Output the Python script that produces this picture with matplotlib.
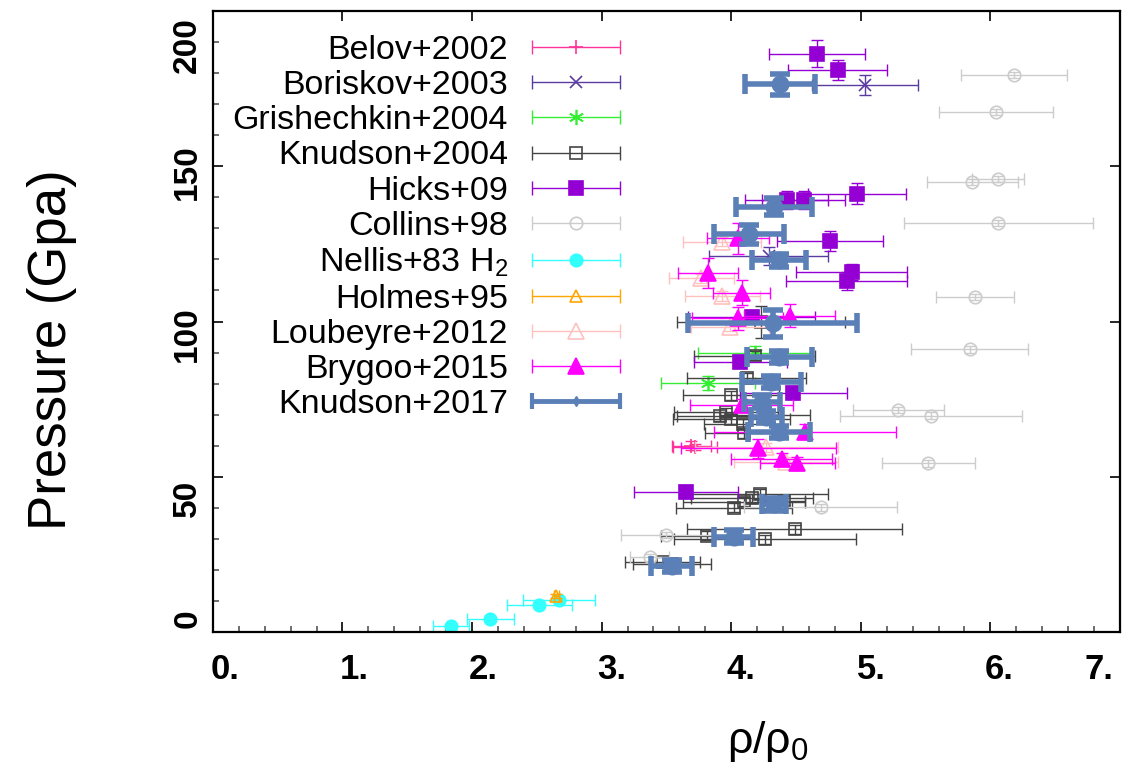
import numpy as np
import matplotlib
matplotlib.use("Agg")
import matplotlib.pyplot as plt
from matplotlib.ticker import MultipleLocator, FuncFormatter
from matplotlib.transforms import ScaledTranslation
from matplotlib.container import ErrorbarContainer
from matplotlib.legend_handler import HandlerErrorbar

plt.rcParams['font.family'] = ['Liberation Sans', 'DejaVu Sans']
plt.rcParams['mathtext.fontset'] = 'custom'
plt.rcParams['mathtext.rm'] = 'Liberation Sans'

# ---- data: rho/rho0, pressure (GPa), x error, y error ----
belov_x = [3.69, 3.72]
belov_y = [60.0, 59.6]
belov_xe = [0.15, 0.17]
belov_ye = [1.5, 1.0]

boriskov_x = [4.29, 5.03]
boriskov_y = [121.1, 176.2]
boriskov_xe = [0.46, 0.41]
boriskov_ye = [3.0, 3.2]

grish_x = [4.18, 3.82]
grish_y = [90.0, 80.1]
grish_xe = [0.44, 0.36]
grish_ye = [2.0, 2.2]

knud04_x = [4.23, 4.18, 4.12, 4.00, 3.91, 3.96, 4.00, 4.09, 4.26, 4.10,
            4.22, 4.16, 4.10, 4.41, 4.02, 4.49, 3.81, 4.26, 3.47, 3.54]
knud04_y = [99.9, 89.0, 81.9, 76.2, 69.5, 70.8, 68.6, 67.0, 69.9, 64.1,
            44.4, 43.0, 42.0, 42.3, 40.0, 33.1, 31.0, 29.9, 22.6, 22.0]
knud04_xe = [0.65, 0.47, 0.46, 0.37, 0.33, 0.40, 0.45, 0.30, 0.35, 0.30,
             0.53, 0.47, 0.47, 0.16, 0.45, 0.83, 0.35, 0.70, 0.29, 0.30]
knud04_ye = [5.2, 1.5, 1.5, 1.5, 1.5, 1.5, 1.5, 1.5, 1.5, 1.5,
             1.5, 1.5, 1.5, 1.5, 1.5, 1.5, 1.5, 1.5, 1.5, 1.5]

hicks_x = [4.66, 4.82, 4.97, 4.43, 4.56, 4.76, 4.93, 4.89, 4.16, 4.07, 4.48, 3.65]
hicks_y = [186.2, 181.0, 141.2, 139.1, 139.1, 126.0, 116.0, 113.1, 101.6, 87.1, 77.1, 45.2]
hicks_xe = [0.37, 0.38, 0.38, 0.32, 0.32, 0.41, 0.43, 0.47, 0.49, 0.36, 0.41, 0.40]
hicks_ye = [4.3, 3.2, 3.3, 3.0, 3.0, 3.3, 2.5, 3.0, 2.0, 2.0, 2.0, 2.0]

collins_x = [6.18, 6.04, 5.86, 6.06, 6.06, 5.88, 5.84, 5.29, 5.54, 5.52, 4.69, 3.50, 3.37]
collins_y = [179.4, 167.5, 145.0, 146.0, 131.8, 108.0, 91.0, 71.5, 69.7, 54.3, 40.1, 31.2, 24.0]
collins_xe = [0.41, 0.44, 0.35, 0.20, 0.73, 0.30, 0.45, 0.35, 0.70, 0.36, 0.59, 0.35, 0.15]
collins_ye = [1.0] * 13

nellis_x = [1.84, 2.14, 2.52, 2.67]
nellis_y = [1.9, 4.1, 8.7, 10.3]
nellis_xe = [0.14, 0.18, 0.25, 0.28]
nellis_ye = [0.5, 0.5, 0.5, 0.5]

holmes_x = [2.65]
holmes_y = [11.6]
holmes_xe = [0.02]
holmes_ye = [0.5]

loub_x = [3.93, 3.77, 3.93, 3.99, 4.27, 4.42]
loub_y = [125.7, 113.9, 108.2, 98.3, 59.5, 54.9]
loub_xe = [0.30, 0.25, 0.29, 0.30, 0.55, 0.40]
loub_ye = [1.5] * 6

brygoo_x = [4.05, 3.82, 4.08, 4.45, 4.05, 4.08, 4.57, 4.21, 4.39, 4.51]
brygoo_y = [126.8, 115.7, 109.3, 101.9, 101.0, 73.1, 64.5, 59.1, 55.6, 54.3]
brygoo_xe = [0.24, 0.23, 0.22, 0.35, 0.35, 0.40, 0.70, 0.60, 0.39, 0.29]
brygoo_ye = [5.0, 4.9, 4.1, 3.8, 3.8, 2.0, 2.5, 3.0, 2.0, 2.0]

knud17_x = [4.38, 4.33, 4.14, 4.37, 4.32, 4.37, 4.31, 4.24, 4.27, 4.37, 4.33, 4.02, 3.54]
knud17_y = [176.4, 137.0, 128.1, 119.7, 99.4, 88.5, 80.6, 74.2, 69.3, 64.5, 41.1, 30.7, 21.2]
knud17_xe = [0.27, 0.29, 0.27, 0.21, 0.65, 0.25, 0.23, 0.14, 0.12, 0.24, 0.09, 0.15, 0.16]
knud17_ye = [3.4, 2.8, 3.0, 2.0, 4.3, 2.0, 2.0, 2.0, 2.0, 2.0, 2.0, 2.0, 2.0]

x_ticks = [0, 1, 2, 3, 4, 5, 6, 7]
y_ticks = [0, 50, 100, 150, 200]

series = [
    ("Belov+2002", belov_x, belov_y, belov_xe, belov_ye, "#ff3399", "+", 10, True),
    ("Boriskov+2003", boriskov_x, boriskov_y, boriskov_xe, boriskov_ye, "#5a3ca0", "x", 9, True),
    ("Grishechkin+2004", grish_x, grish_y, grish_xe, grish_ye, "#33ee33", (6, 2, 0), 11, True),
    ("Knudson+2004", knud04_x, knud04_y, knud04_xe, knud04_ye, "#444444", "s", 9, False),
    ("Hicks+09", hicks_x, hicks_y, hicks_xe, hicks_ye, "#9400d3", "s", 10, True),
    ("Collins+98", collins_x, collins_y, collins_xe, collins_ye, "#cccccc", "o", 9, False),
    ("Nellis+83 H$_2$", nellis_x, nellis_y, nellis_xe, nellis_ye, "#33ffff", "o", 9, True),
    ("Holmes+95", holmes_x, holmes_y, holmes_xe, holmes_ye, "#ffa500", "^", 8, False),
    ("Loubeyre+2012", loub_x, loub_y, loub_xe, loub_ye, "#ffc0c0", "^", 12, False),
    ("Brygoo+2015", brygoo_x, brygoo_y, brygoo_xe, brygoo_ye, "#ff00ff", "^", 12, True),
]

fig = plt.figure(figsize=(11.33, 7.79), dpi=100)
ax = fig.add_axes([212.9 / 1133, 1 - 632 / 779, (1120 - 212.9) / 1133, (632 - 11) / 779])

handles = []
for name, x, y, xe, ye, c, m, ms, filled in series:
    fc = c if filled else "none"
    ax.errorbar(x, y, xerr=xe, yerr=ye, fmt="none", ecolor=c, elinewidth=1.0,
                capsize=4, capthick=1.0)
    ax.plot(x, y, linestyle="none", marker=m, ms=ms, mfc=fc, mec=c, mew=1.2)
    h = ax.errorbar([np.nan], [np.nan], xerr=[0.1], fmt="none", ecolor=c,
                    elinewidth=1.0, capsize=5, capthick=1.0)
    p, = ax.plot([np.nan], [np.nan], linestyle="none", marker=m, ms=ms,
                 mfc=fc, mec=c, mew=1.2)
    handles.append(((h, p), name))

k17 = "#5b80b8"
ax.errorbar(knud17_x, knud17_y, xerr=knud17_xe, yerr=knud17_ye, fmt="o", ms=12,
            color=k17, ecolor=k17, elinewidth=4, capsize=7.5, capthick=4)
h = ax.errorbar([np.nan], [np.nan], xerr=[0.1], fmt="none", ecolor=k17,
                elinewidth=3.5, capsize=6, capthick=3)
p, = ax.plot([np.nan], [np.nan], linestyle="none", marker="d", ms=5, color=k17)
handles.append(((h, p), "Knudson+2017"))

ax.set_xlim(0, 7)
ax.set_ylim(0, 200)
ax.set_xticks(x_ticks)
ax.set_yticks(y_ticks)
ax.xaxis.set_minor_locator(MultipleLocator(0.2))
ax.yaxis.set_minor_locator(MultipleLocator(10))
ax.xaxis.set_major_formatter(FuncFormatter(lambda v, p: f"{v:.0f}."))
ax.tick_params(which="both", direction="in", top=True, right=True, width=1.2)
ax.tick_params(which="major", length=7.5)
ax.tick_params(which="minor", length=4.5, top=False, right=False, color="#555555")
ax.tick_params(axis="x", pad=15, labelsize=25)
ax.tick_params(axis="y", pad=7, labelsize=24, labelrotation=90)
for lab in ax.get_xticklabels() + ax.get_yticklabels():
    lab.set_fontweight("bold")
for lab in ax.get_yticklabels():
    lab.set_va("center")

# label nudges (pixels) to follow the original layout
x_shift = [12, 12, 11, 10, 10, 11, 9, -21]
y_shift = [-13, 22, 13, 6, 34]
for lab, dx in zip(ax.get_xticklabels(), x_shift):
    lab.set_transform(lab.get_transform() + ScaledTranslation(dx / 100, 0, fig.dpi_scale_trans))
for lab, dy in zip(ax.get_yticklabels(), y_shift):
    lab.set_transform(lab.get_transform() + ScaledTranslation(0, -dy / 100, fig.dpi_scale_trans))
for s in ax.spines.values():
    s.set_linewidth(1.6)

leg = ax.legend([hh for hh, _ in handles], [n for _, n in handles],
                loc="upper right", bbox_to_anchor=(0.450, 0.961), frameon=False,
                markerfirst=False, fontsize=24.5, handlelength=2.65, handletextpad=0.68,
                labelspacing=0.12, borderpad=0, borderaxespad=0,
                handler_map={ErrorbarContainer: HandlerErrorbar(xerr_size=1.3)})

fig.text(52 / 1133, 1 - 350 / 779, "Pressure (Gpa)", rotation=90, fontsize=38,
         ha="center", va="center")
fig.text(768 / 1133, 1 - 742 / 779, "$\\mathregular{ρ/ρ_0}$", fontsize=32,
         ha="center", va="center")

fig.savefig("out.png", dpi=100)
